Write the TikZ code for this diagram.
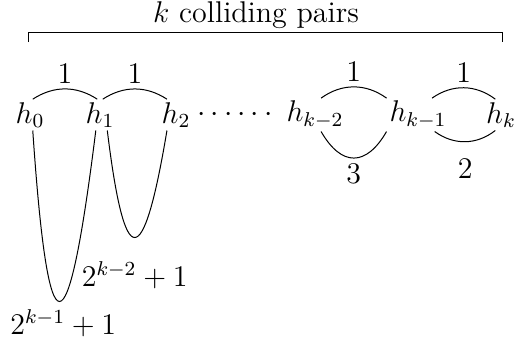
\documentclass[tikz,border=0pt]{standalone}
\usetikzlibrary{positioning}

\begin{document}
\begin{tikzpicture}[
  x=0.4pt, y=0.4pt, font=\large, on grid,
  hnode/.style={inner sep=1pt},
  wt/.style={inner sep=2pt},
]
\useasboundingbox (0,0) rectangle (514,-347);

% the chain h_0 ... h_k
\node[hnode, anchor=base] (h0) at (30,-123) {$h_0$};
\node[hnode, base right=28pt of h0] (h1) {$h_1$};
\node[hnode, base right=30.4pt of h1] (h2) {$h_2$};
\node[hnode, base right=23.6pt of h2] (dots) {$\cdots\cdots$};
\node[hnode, base right=32pt of dots] (hkm2) {$h_{k-2}$};
\node[hnode, base right=41.2pt of hkm2] (hkm1) {$h_{k-1}$};
\node[hnode, base right=33.2pt of hkm1] (hk) {$h_k$};

% bracket over all pairs
\coordinate (bl) at (28,-42);
\coordinate (br) at (502,-42);
\draw (bl) -- ++(0,10) -| (br);
\node[anchor=base] (title) at (256,-22) {$k$ colliding pairs};

% weights on top
\draw (h0.80) to[bend left=33] node[above, wt]{1} (h1.100);
\draw (h1.80) to[bend left=33] node[above, wt]{1} (h2.120);
\draw (hkm2.70) to[bend left=36] node[above, wt]{1} (hkm1.north west);
\draw (hkm1.50) to[bend left=36] node[above, wt]{1} (hk.110);

% weights below
\draw (hkm2.-70) to[bend right=60, looseness=1.6] node[below, wt]{3} (hkm1.south west);
\draw (hkm1.-45) to[bend right=37] node[below=3pt]{2} (hk.-110);
\draw (h0.-80) .. controls +(15.5,-228) and +(-28.3,-228) .. (h1.-105)
  node[midway, below=2pt, inner sep=1pt, xshift=1.5pt]{$2^{k-1}+1$};
\draw (h1.-65) .. controls +(17.4,-142.7) and +(-23.9,-142.7) .. (h2.-120)
  node[midway, below=6pt]{$2^{k-2}+1$};
\end{tikzpicture}
\end{document}
